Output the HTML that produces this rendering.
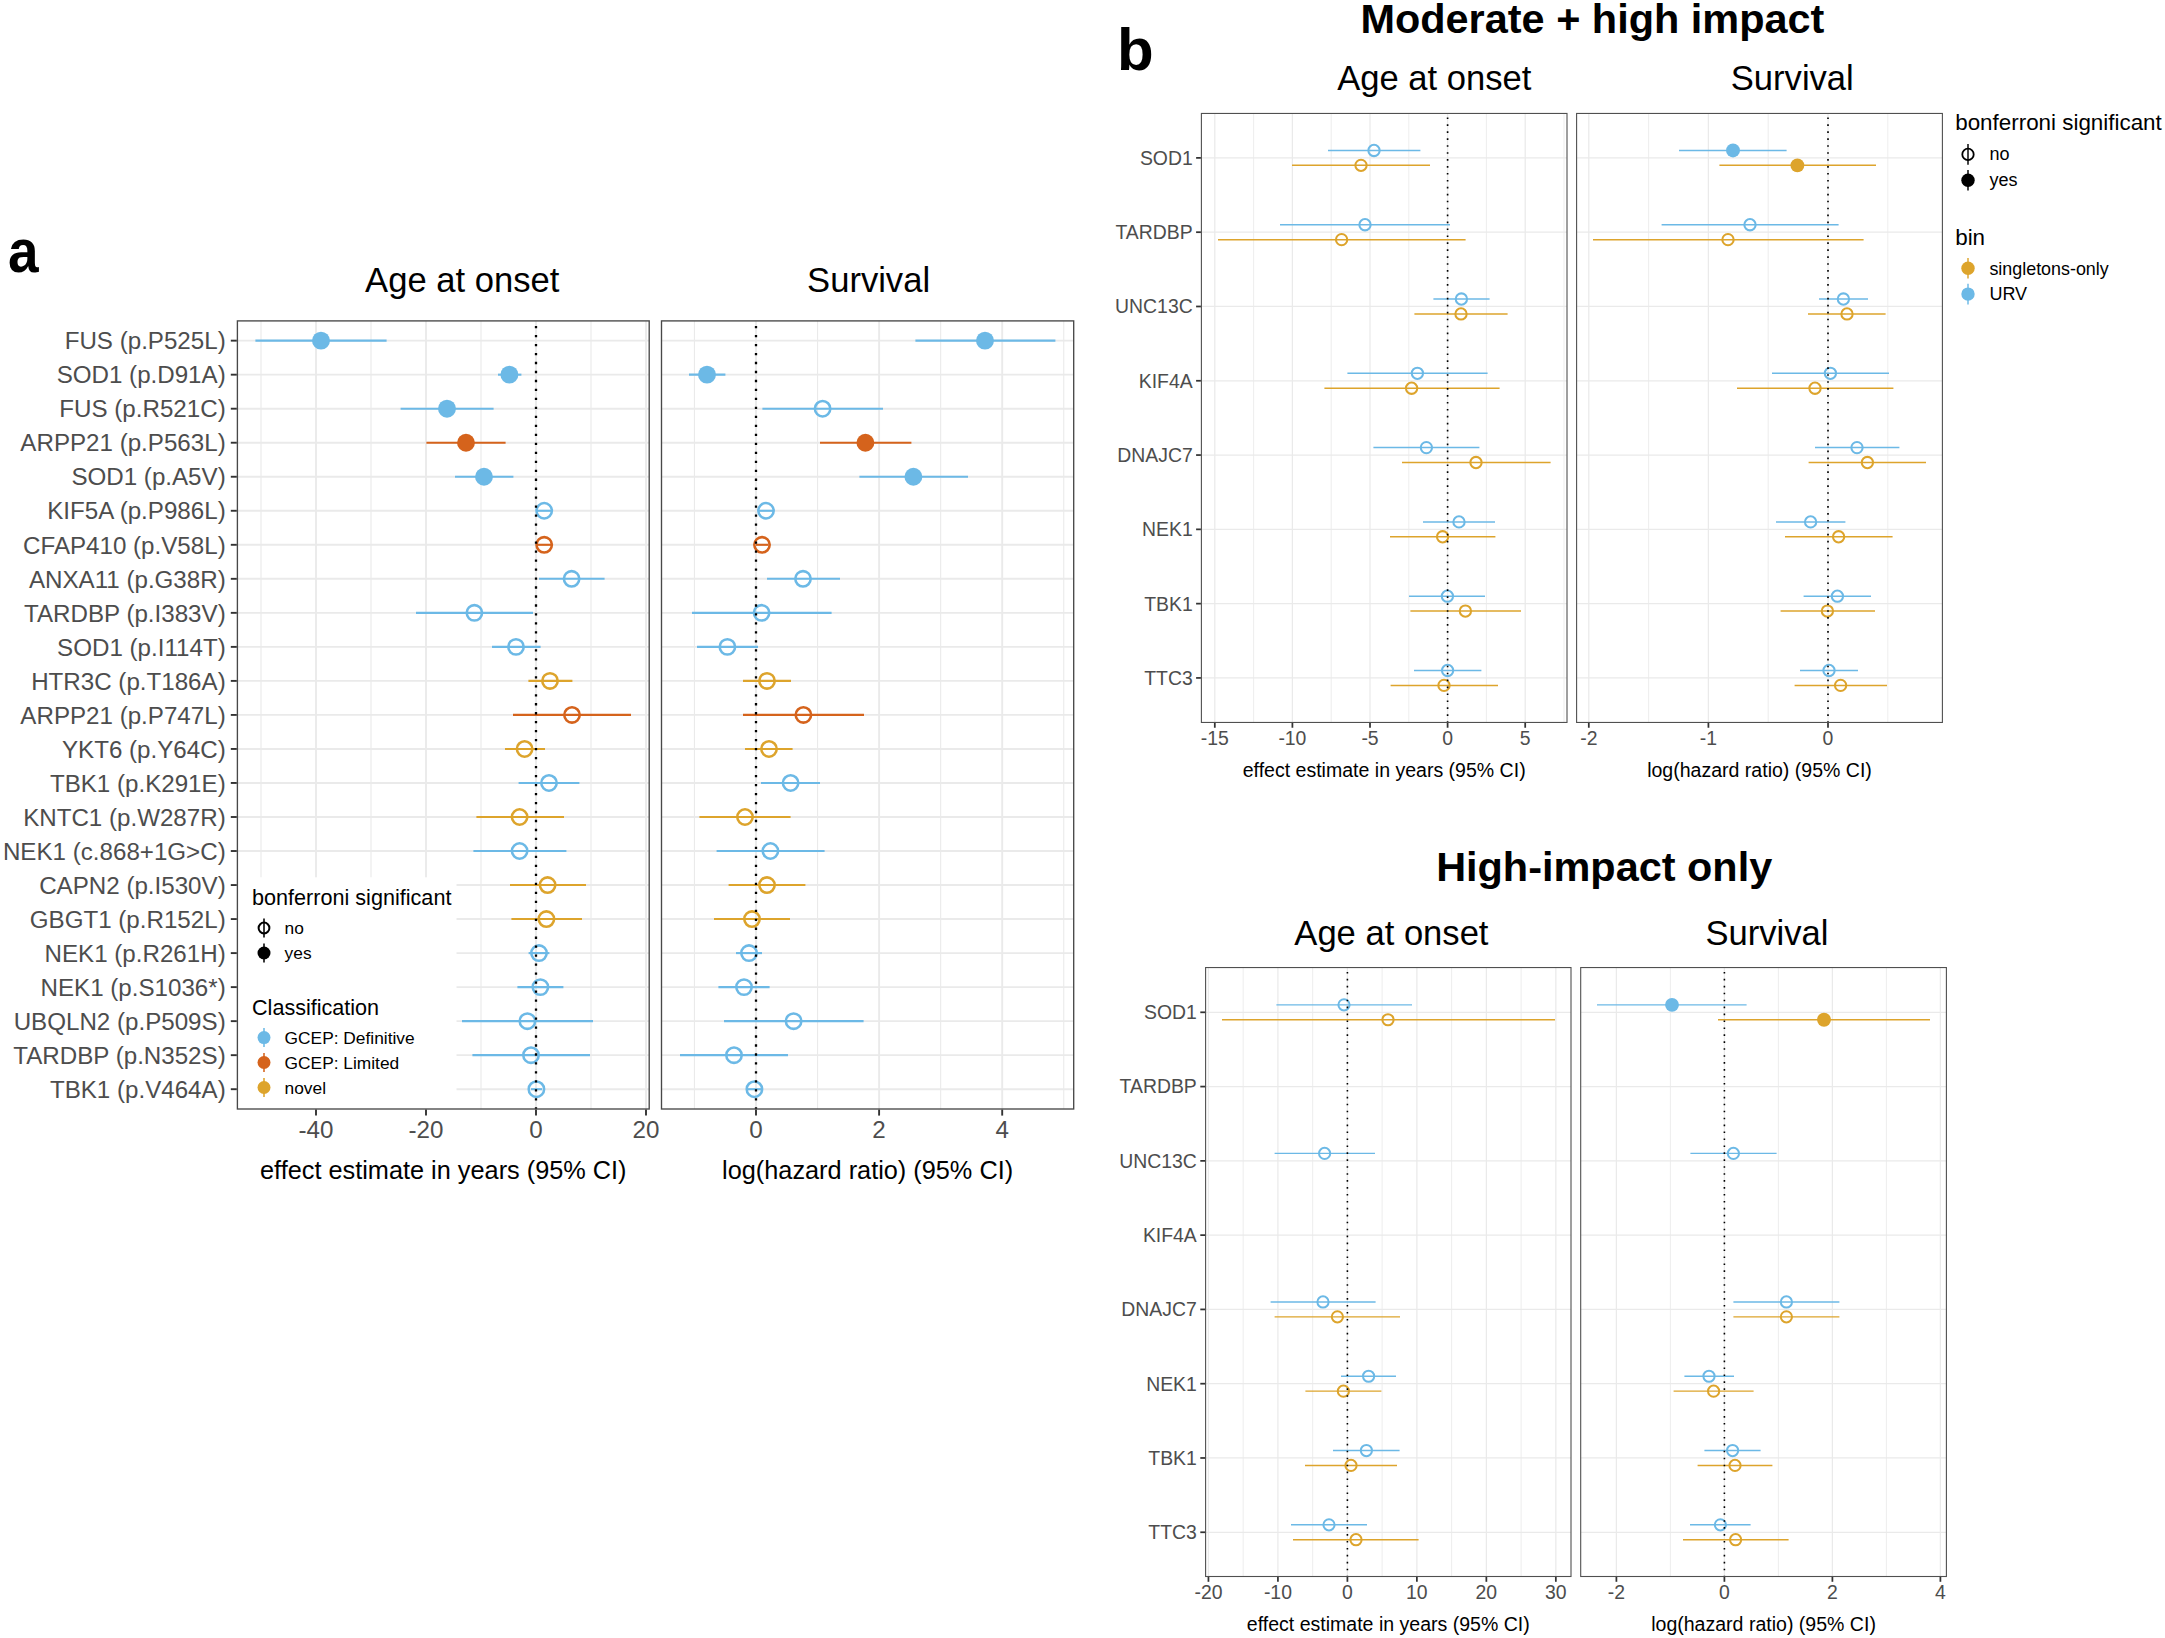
<!DOCTYPE html>
<html lang="en">
<head>
<meta charset="utf-8">
<title>Figure</title>
<style>html,body{margin:0;padding:0;background:#fff;}svg{display:block;}</style>
</head>
<body>
<svg width="2165" height="1638" viewBox="0 0 2165 1638" font-family="'Liberation Sans', sans-serif">
<rect width="2165" height="1638" fill="#fff"/>
<g id="panel-a">
<rect x="237.4" y="320.9" width="411.8" height="788.1" fill="#fff"/>
<line x1="261" y1="320.9" x2="261" y2="1109" stroke="#EAEAEA" stroke-width="1.1" />
<line x1="371" y1="320.9" x2="371" y2="1109" stroke="#EAEAEA" stroke-width="1.1" />
<line x1="481" y1="320.9" x2="481" y2="1109" stroke="#EAEAEA" stroke-width="1.1" />
<line x1="591" y1="320.9" x2="591" y2="1109" stroke="#EAEAEA" stroke-width="1.1" />
<line x1="316" y1="320.9" x2="316" y2="1109" stroke="#EAEAEA" stroke-width="1.9" />
<line x1="426" y1="320.9" x2="426" y2="1109" stroke="#EAEAEA" stroke-width="1.9" />
<line x1="536" y1="320.9" x2="536" y2="1109" stroke="#EAEAEA" stroke-width="1.9" />
<line x1="646" y1="320.9" x2="646" y2="1109" stroke="#EAEAEA" stroke-width="1.9" />
<line x1="237.4" y1="340.65" x2="649.2" y2="340.65" stroke="#EAEAEA" stroke-width="1.9" />
<line x1="237.4" y1="374.67" x2="649.2" y2="374.67" stroke="#EAEAEA" stroke-width="1.9" />
<line x1="237.4" y1="408.7" x2="649.2" y2="408.7" stroke="#EAEAEA" stroke-width="1.9" />
<line x1="237.4" y1="442.72" x2="649.2" y2="442.72" stroke="#EAEAEA" stroke-width="1.9" />
<line x1="237.4" y1="476.75" x2="649.2" y2="476.75" stroke="#EAEAEA" stroke-width="1.9" />
<line x1="237.4" y1="510.77" x2="649.2" y2="510.77" stroke="#EAEAEA" stroke-width="1.9" />
<line x1="237.4" y1="544.8" x2="649.2" y2="544.8" stroke="#EAEAEA" stroke-width="1.9" />
<line x1="237.4" y1="578.82" x2="649.2" y2="578.82" stroke="#EAEAEA" stroke-width="1.9" />
<line x1="237.4" y1="612.85" x2="649.2" y2="612.85" stroke="#EAEAEA" stroke-width="1.9" />
<line x1="237.4" y1="646.88" x2="649.2" y2="646.88" stroke="#EAEAEA" stroke-width="1.9" />
<line x1="237.4" y1="680.9" x2="649.2" y2="680.9" stroke="#EAEAEA" stroke-width="1.9" />
<line x1="237.4" y1="714.92" x2="649.2" y2="714.92" stroke="#EAEAEA" stroke-width="1.9" />
<line x1="237.4" y1="748.95" x2="649.2" y2="748.95" stroke="#EAEAEA" stroke-width="1.9" />
<line x1="237.4" y1="782.97" x2="649.2" y2="782.97" stroke="#EAEAEA" stroke-width="1.9" />
<line x1="237.4" y1="817" x2="649.2" y2="817" stroke="#EAEAEA" stroke-width="1.9" />
<line x1="237.4" y1="851.02" x2="649.2" y2="851.02" stroke="#EAEAEA" stroke-width="1.9" />
<line x1="237.4" y1="885.05" x2="649.2" y2="885.05" stroke="#EAEAEA" stroke-width="1.9" />
<line x1="237.4" y1="919.07" x2="649.2" y2="919.07" stroke="#EAEAEA" stroke-width="1.9" />
<line x1="237.4" y1="953.1" x2="649.2" y2="953.1" stroke="#EAEAEA" stroke-width="1.9" />
<line x1="237.4" y1="987.12" x2="649.2" y2="987.12" stroke="#EAEAEA" stroke-width="1.9" />
<line x1="237.4" y1="1021.15" x2="649.2" y2="1021.15" stroke="#EAEAEA" stroke-width="1.9" />
<line x1="237.4" y1="1055.17" x2="649.2" y2="1055.17" stroke="#EAEAEA" stroke-width="1.9" />
<line x1="237.4" y1="1089.2" x2="649.2" y2="1089.2" stroke="#EAEAEA" stroke-width="1.9" />
<rect x="661.5" y="320.9" width="412.2" height="788.1" fill="#fff"/>
<line x1="694.45" y1="320.9" x2="694.45" y2="1109" stroke="#EAEAEA" stroke-width="1.1" />
<line x1="817.55" y1="320.9" x2="817.55" y2="1109" stroke="#EAEAEA" stroke-width="1.1" />
<line x1="940.65" y1="320.9" x2="940.65" y2="1109" stroke="#EAEAEA" stroke-width="1.1" />
<line x1="1063.75" y1="320.9" x2="1063.75" y2="1109" stroke="#EAEAEA" stroke-width="1.1" />
<line x1="756" y1="320.9" x2="756" y2="1109" stroke="#EAEAEA" stroke-width="1.9" />
<line x1="879.1" y1="320.9" x2="879.1" y2="1109" stroke="#EAEAEA" stroke-width="1.9" />
<line x1="1002.2" y1="320.9" x2="1002.2" y2="1109" stroke="#EAEAEA" stroke-width="1.9" />
<line x1="661.5" y1="340.65" x2="1073.7" y2="340.65" stroke="#EAEAEA" stroke-width="1.9" />
<line x1="661.5" y1="374.67" x2="1073.7" y2="374.67" stroke="#EAEAEA" stroke-width="1.9" />
<line x1="661.5" y1="408.7" x2="1073.7" y2="408.7" stroke="#EAEAEA" stroke-width="1.9" />
<line x1="661.5" y1="442.72" x2="1073.7" y2="442.72" stroke="#EAEAEA" stroke-width="1.9" />
<line x1="661.5" y1="476.75" x2="1073.7" y2="476.75" stroke="#EAEAEA" stroke-width="1.9" />
<line x1="661.5" y1="510.77" x2="1073.7" y2="510.77" stroke="#EAEAEA" stroke-width="1.9" />
<line x1="661.5" y1="544.8" x2="1073.7" y2="544.8" stroke="#EAEAEA" stroke-width="1.9" />
<line x1="661.5" y1="578.82" x2="1073.7" y2="578.82" stroke="#EAEAEA" stroke-width="1.9" />
<line x1="661.5" y1="612.85" x2="1073.7" y2="612.85" stroke="#EAEAEA" stroke-width="1.9" />
<line x1="661.5" y1="646.88" x2="1073.7" y2="646.88" stroke="#EAEAEA" stroke-width="1.9" />
<line x1="661.5" y1="680.9" x2="1073.7" y2="680.9" stroke="#EAEAEA" stroke-width="1.9" />
<line x1="661.5" y1="714.92" x2="1073.7" y2="714.92" stroke="#EAEAEA" stroke-width="1.9" />
<line x1="661.5" y1="748.95" x2="1073.7" y2="748.95" stroke="#EAEAEA" stroke-width="1.9" />
<line x1="661.5" y1="782.97" x2="1073.7" y2="782.97" stroke="#EAEAEA" stroke-width="1.9" />
<line x1="661.5" y1="817" x2="1073.7" y2="817" stroke="#EAEAEA" stroke-width="1.9" />
<line x1="661.5" y1="851.02" x2="1073.7" y2="851.02" stroke="#EAEAEA" stroke-width="1.9" />
<line x1="661.5" y1="885.05" x2="1073.7" y2="885.05" stroke="#EAEAEA" stroke-width="1.9" />
<line x1="661.5" y1="919.07" x2="1073.7" y2="919.07" stroke="#EAEAEA" stroke-width="1.9" />
<line x1="661.5" y1="953.1" x2="1073.7" y2="953.1" stroke="#EAEAEA" stroke-width="1.9" />
<line x1="661.5" y1="987.12" x2="1073.7" y2="987.12" stroke="#EAEAEA" stroke-width="1.9" />
<line x1="661.5" y1="1021.15" x2="1073.7" y2="1021.15" stroke="#EAEAEA" stroke-width="1.9" />
<line x1="661.5" y1="1055.17" x2="1073.7" y2="1055.17" stroke="#EAEAEA" stroke-width="1.9" />
<line x1="661.5" y1="1089.2" x2="1073.7" y2="1089.2" stroke="#EAEAEA" stroke-width="1.9" />
<line x1="255.4" y1="340.65" x2="386.6" y2="340.65" stroke="#6CB9E6" stroke-width="2.1" />
<circle cx="321" cy="340.65" r="8.95" fill="#6CB9E6"/>
<line x1="915.4" y1="340.65" x2="1055.4" y2="340.65" stroke="#6CB9E6" stroke-width="2.1" />
<circle cx="985" cy="340.65" r="8.95" fill="#6CB9E6"/>
<line x1="498" y1="374.67" x2="521.4" y2="374.67" stroke="#6CB9E6" stroke-width="2.1" />
<circle cx="509.4" cy="374.67" r="8.95" fill="#6CB9E6"/>
<line x1="689" y1="374.67" x2="725.4" y2="374.67" stroke="#6CB9E6" stroke-width="2.1" />
<circle cx="707" cy="374.67" r="8.95" fill="#6CB9E6"/>
<line x1="400.6" y1="408.7" x2="493.6" y2="408.7" stroke="#6CB9E6" stroke-width="2.1" />
<circle cx="447" cy="408.7" r="8.95" fill="#6CB9E6"/>
<line x1="762.4" y1="408.7" x2="883" y2="408.7" stroke="#6CB9E6" stroke-width="2.1" />
<circle cx="822.6" cy="408.7" r="7.7" fill="none" stroke="#6CB9E6" stroke-width="2.55"/>
<line x1="426.4" y1="442.72" x2="505.6" y2="442.72" stroke="#D5631C" stroke-width="2.1" />
<circle cx="466" cy="442.72" r="8.95" fill="#D5631C"/>
<line x1="820" y1="442.72" x2="911.4" y2="442.72" stroke="#D5631C" stroke-width="2.1" />
<circle cx="865.4" cy="442.72" r="8.95" fill="#D5631C"/>
<line x1="455" y1="476.75" x2="513.4" y2="476.75" stroke="#6CB9E6" stroke-width="2.1" />
<circle cx="484" cy="476.75" r="8.95" fill="#6CB9E6"/>
<line x1="859.4" y1="476.75" x2="968" y2="476.75" stroke="#6CB9E6" stroke-width="2.1" />
<circle cx="913.4" cy="476.75" r="8.95" fill="#6CB9E6"/>
<line x1="536" y1="510.77" x2="552.6" y2="510.77" stroke="#6CB9E6" stroke-width="2.1" />
<circle cx="544.2" cy="510.77" r="7.7" fill="none" stroke="#6CB9E6" stroke-width="2.55"/>
<line x1="758" y1="510.77" x2="774" y2="510.77" stroke="#6CB9E6" stroke-width="2.1" />
<circle cx="766" cy="510.77" r="7.7" fill="none" stroke="#6CB9E6" stroke-width="2.55"/>
<line x1="536.4" y1="544.8" x2="552.6" y2="544.8" stroke="#D5631C" stroke-width="2.1" />
<circle cx="544.2" cy="544.8" r="7.7" fill="none" stroke="#D5631C" stroke-width="2.55"/>
<line x1="756" y1="544.8" x2="768.5" y2="544.8" stroke="#D5631C" stroke-width="2.1" />
<circle cx="762" cy="544.8" r="7.7" fill="none" stroke="#D5631C" stroke-width="2.55"/>
<line x1="539" y1="578.82" x2="604.6" y2="578.82" stroke="#6CB9E6" stroke-width="2.1" />
<circle cx="571.6" cy="578.82" r="7.7" fill="none" stroke="#6CB9E6" stroke-width="2.55"/>
<line x1="767" y1="578.82" x2="840" y2="578.82" stroke="#6CB9E6" stroke-width="2.1" />
<circle cx="803" cy="578.82" r="7.7" fill="none" stroke="#6CB9E6" stroke-width="2.55"/>
<line x1="416" y1="612.85" x2="533" y2="612.85" stroke="#6CB9E6" stroke-width="2.1" />
<circle cx="474.4" cy="612.85" r="7.7" fill="none" stroke="#6CB9E6" stroke-width="2.55"/>
<line x1="692" y1="612.85" x2="831.6" y2="612.85" stroke="#6CB9E6" stroke-width="2.1" />
<circle cx="761.6" cy="612.85" r="7.7" fill="none" stroke="#6CB9E6" stroke-width="2.55"/>
<line x1="492" y1="646.88" x2="540.6" y2="646.88" stroke="#6CB9E6" stroke-width="2.1" />
<circle cx="516" cy="646.88" r="7.7" fill="none" stroke="#6CB9E6" stroke-width="2.55"/>
<line x1="697" y1="646.88" x2="758" y2="646.88" stroke="#6CB9E6" stroke-width="2.1" />
<circle cx="727.4" cy="646.88" r="7.7" fill="none" stroke="#6CB9E6" stroke-width="2.55"/>
<line x1="528.4" y1="680.9" x2="572.4" y2="680.9" stroke="#DDA42C" stroke-width="2.1" />
<circle cx="550" cy="680.9" r="7.7" fill="none" stroke="#DDA42C" stroke-width="2.55"/>
<line x1="743" y1="680.9" x2="791" y2="680.9" stroke="#DDA42C" stroke-width="2.1" />
<circle cx="767" cy="680.9" r="7.7" fill="none" stroke="#DDA42C" stroke-width="2.55"/>
<line x1="513" y1="714.92" x2="631" y2="714.92" stroke="#D5631C" stroke-width="2.1" />
<circle cx="572" cy="714.92" r="7.7" fill="none" stroke="#D5631C" stroke-width="2.55"/>
<line x1="743" y1="714.92" x2="864" y2="714.92" stroke="#D5631C" stroke-width="2.1" />
<circle cx="803.4" cy="714.92" r="7.7" fill="none" stroke="#D5631C" stroke-width="2.55"/>
<line x1="505" y1="748.95" x2="545" y2="748.95" stroke="#DDA42C" stroke-width="2.1" />
<circle cx="524.6" cy="748.95" r="7.7" fill="none" stroke="#DDA42C" stroke-width="2.55"/>
<line x1="745" y1="748.95" x2="792.6" y2="748.95" stroke="#DDA42C" stroke-width="2.1" />
<circle cx="769" cy="748.95" r="7.7" fill="none" stroke="#DDA42C" stroke-width="2.55"/>
<line x1="518.6" y1="782.97" x2="579.4" y2="782.97" stroke="#6CB9E6" stroke-width="2.1" />
<circle cx="549" cy="782.97" r="7.7" fill="none" stroke="#6CB9E6" stroke-width="2.55"/>
<line x1="761" y1="782.97" x2="820" y2="782.97" stroke="#6CB9E6" stroke-width="2.1" />
<circle cx="790.6" cy="782.97" r="7.7" fill="none" stroke="#6CB9E6" stroke-width="2.55"/>
<line x1="476.4" y1="817" x2="564" y2="817" stroke="#DDA42C" stroke-width="2.1" />
<circle cx="519.6" cy="817" r="7.7" fill="none" stroke="#DDA42C" stroke-width="2.55"/>
<line x1="699.4" y1="817" x2="790.6" y2="817" stroke="#DDA42C" stroke-width="2.1" />
<circle cx="745" cy="817" r="7.7" fill="none" stroke="#DDA42C" stroke-width="2.55"/>
<line x1="473.4" y1="851.02" x2="566.4" y2="851.02" stroke="#6CB9E6" stroke-width="2.1" />
<circle cx="519.6" cy="851.02" r="7.7" fill="none" stroke="#6CB9E6" stroke-width="2.55"/>
<line x1="716.6" y1="851.02" x2="824.6" y2="851.02" stroke="#6CB9E6" stroke-width="2.1" />
<circle cx="770.4" cy="851.02" r="7.7" fill="none" stroke="#6CB9E6" stroke-width="2.55"/>
<line x1="510" y1="885.05" x2="586" y2="885.05" stroke="#DDA42C" stroke-width="2.1" />
<circle cx="547.6" cy="885.05" r="7.7" fill="none" stroke="#DDA42C" stroke-width="2.55"/>
<line x1="728.6" y1="885.05" x2="805.4" y2="885.05" stroke="#DDA42C" stroke-width="2.1" />
<circle cx="767" cy="885.05" r="7.7" fill="none" stroke="#DDA42C" stroke-width="2.55"/>
<line x1="511.4" y1="919.07" x2="582" y2="919.07" stroke="#DDA42C" stroke-width="2.1" />
<circle cx="546.4" cy="919.07" r="7.7" fill="none" stroke="#DDA42C" stroke-width="2.55"/>
<line x1="714" y1="919.07" x2="790" y2="919.07" stroke="#DDA42C" stroke-width="2.1" />
<circle cx="752" cy="919.07" r="7.7" fill="none" stroke="#DDA42C" stroke-width="2.55"/>
<line x1="528.6" y1="953.1" x2="549.4" y2="953.1" stroke="#6CB9E6" stroke-width="2.1" />
<circle cx="539" cy="953.1" r="7.7" fill="none" stroke="#6CB9E6" stroke-width="2.55"/>
<line x1="736" y1="953.1" x2="762" y2="953.1" stroke="#6CB9E6" stroke-width="2.1" />
<circle cx="749" cy="953.1" r="7.7" fill="none" stroke="#6CB9E6" stroke-width="2.55"/>
<line x1="517.4" y1="987.12" x2="563.4" y2="987.12" stroke="#6CB9E6" stroke-width="2.1" />
<circle cx="540.4" cy="987.12" r="7.7" fill="none" stroke="#6CB9E6" stroke-width="2.55"/>
<line x1="718.4" y1="987.12" x2="769.6" y2="987.12" stroke="#6CB9E6" stroke-width="2.1" />
<circle cx="744" cy="987.12" r="7.7" fill="none" stroke="#6CB9E6" stroke-width="2.55"/>
<line x1="462" y1="1021.15" x2="593" y2="1021.15" stroke="#6CB9E6" stroke-width="2.1" />
<circle cx="527.4" cy="1021.15" r="7.7" fill="none" stroke="#6CB9E6" stroke-width="2.55"/>
<line x1="724" y1="1021.15" x2="863.6" y2="1021.15" stroke="#6CB9E6" stroke-width="2.1" />
<circle cx="793.6" cy="1021.15" r="7.7" fill="none" stroke="#6CB9E6" stroke-width="2.55"/>
<line x1="472.4" y1="1055.17" x2="590" y2="1055.17" stroke="#6CB9E6" stroke-width="2.1" />
<circle cx="531" cy="1055.17" r="7.7" fill="none" stroke="#6CB9E6" stroke-width="2.55"/>
<line x1="680" y1="1055.17" x2="788" y2="1055.17" stroke="#6CB9E6" stroke-width="2.1" />
<circle cx="734" cy="1055.17" r="7.7" fill="none" stroke="#6CB9E6" stroke-width="2.55"/>
<line x1="531" y1="1089.2" x2="542" y2="1089.2" stroke="#6CB9E6" stroke-width="2.1" />
<circle cx="536.4" cy="1089.2" r="7.7" fill="none" stroke="#6CB9E6" stroke-width="2.55"/>
<line x1="748" y1="1089.2" x2="761" y2="1089.2" stroke="#6CB9E6" stroke-width="2.1" />
<circle cx="754.4" cy="1089.2" r="7.7" fill="none" stroke="#6CB9E6" stroke-width="2.55"/>
<line x1="536" y1="320.9" x2="536" y2="1109" stroke="#000" stroke-width="2.3" stroke-dasharray="2.3 6.68" stroke-dashoffset="3.93"/>
<line x1="756" y1="320.9" x2="756" y2="1109" stroke="#000" stroke-width="2.3" stroke-dasharray="2.3 6.68" stroke-dashoffset="3.93"/>
<rect x="237.4" y="877.3" width="219.1" height="231.7" fill="#fff"/>
<rect x="237.4" y="320.9" width="411.8" height="788.1" fill="none" stroke="#484848" stroke-width="1.35"/>
<rect x="661.5" y="320.9" width="412.2" height="788.1" fill="none" stroke="#484848" stroke-width="1.35"/>
<line x1="230.8" y1="340.65" x2="236.8" y2="340.65" stroke="#333333" stroke-width="1.9" />
<text x="225.7" y="349.35" font-size="24.15" fill="#4D4D4D" text-anchor="end" >FUS (p.P525L)</text>
<line x1="230.8" y1="374.67" x2="236.8" y2="374.67" stroke="#333333" stroke-width="1.9" />
<text x="225.7" y="383.37" font-size="24.15" fill="#4D4D4D" text-anchor="end" >SOD1 (p.D91A)</text>
<line x1="230.8" y1="408.7" x2="236.8" y2="408.7" stroke="#333333" stroke-width="1.9" />
<text x="225.7" y="417.4" font-size="24.15" fill="#4D4D4D" text-anchor="end" >FUS (p.R521C)</text>
<line x1="230.8" y1="442.72" x2="236.8" y2="442.72" stroke="#333333" stroke-width="1.9" />
<text x="225.7" y="451.42" font-size="24.15" fill="#4D4D4D" text-anchor="end" >ARPP21 (p.P563L)</text>
<line x1="230.8" y1="476.75" x2="236.8" y2="476.75" stroke="#333333" stroke-width="1.9" />
<text x="225.7" y="485.45" font-size="24.15" fill="#4D4D4D" text-anchor="end" >SOD1 (p.A5V)</text>
<line x1="230.8" y1="510.77" x2="236.8" y2="510.77" stroke="#333333" stroke-width="1.9" />
<text x="225.7" y="519.48" font-size="24.15" fill="#4D4D4D" text-anchor="end" >KIF5A (p.P986L)</text>
<line x1="230.8" y1="544.8" x2="236.8" y2="544.8" stroke="#333333" stroke-width="1.9" />
<text x="225.7" y="553.5" font-size="24.15" fill="#4D4D4D" text-anchor="end" >CFAP410 (p.V58L)</text>
<line x1="230.8" y1="578.82" x2="236.8" y2="578.82" stroke="#333333" stroke-width="1.9" />
<text x="225.7" y="587.52" font-size="24.15" fill="#4D4D4D" text-anchor="end" >ANXA11 (p.G38R)</text>
<line x1="230.8" y1="612.85" x2="236.8" y2="612.85" stroke="#333333" stroke-width="1.9" />
<text x="225.7" y="621.55" font-size="24.15" fill="#4D4D4D" text-anchor="end" >TARDBP (p.I383V)</text>
<line x1="230.8" y1="646.88" x2="236.8" y2="646.88" stroke="#333333" stroke-width="1.9" />
<text x="225.7" y="655.58" font-size="24.15" fill="#4D4D4D" text-anchor="end" >SOD1 (p.I114T)</text>
<line x1="230.8" y1="680.9" x2="236.8" y2="680.9" stroke="#333333" stroke-width="1.9" />
<text x="225.7" y="689.6" font-size="24.15" fill="#4D4D4D" text-anchor="end" >HTR3C (p.T186A)</text>
<line x1="230.8" y1="714.92" x2="236.8" y2="714.92" stroke="#333333" stroke-width="1.9" />
<text x="225.7" y="723.62" font-size="24.15" fill="#4D4D4D" text-anchor="end" >ARPP21 (p.P747L)</text>
<line x1="230.8" y1="748.95" x2="236.8" y2="748.95" stroke="#333333" stroke-width="1.9" />
<text x="225.7" y="757.65" font-size="24.15" fill="#4D4D4D" text-anchor="end" >YKT6 (p.Y64C)</text>
<line x1="230.8" y1="782.97" x2="236.8" y2="782.97" stroke="#333333" stroke-width="1.9" />
<text x="225.7" y="791.67" font-size="24.15" fill="#4D4D4D" text-anchor="end" >TBK1 (p.K291E)</text>
<line x1="230.8" y1="817" x2="236.8" y2="817" stroke="#333333" stroke-width="1.9" />
<text x="225.7" y="825.7" font-size="24.15" fill="#4D4D4D" text-anchor="end" >KNTC1 (p.W287R)</text>
<line x1="230.8" y1="851.02" x2="236.8" y2="851.02" stroke="#333333" stroke-width="1.9" />
<text x="225.7" y="859.73" font-size="24.15" fill="#4D4D4D" text-anchor="end" >NEK1 (c.868+1G&gt;C)</text>
<line x1="230.8" y1="885.05" x2="236.8" y2="885.05" stroke="#333333" stroke-width="1.9" />
<text x="225.7" y="893.75" font-size="24.15" fill="#4D4D4D" text-anchor="end" >CAPN2 (p.I530V)</text>
<line x1="230.8" y1="919.07" x2="236.8" y2="919.07" stroke="#333333" stroke-width="1.9" />
<text x="225.7" y="927.77" font-size="24.15" fill="#4D4D4D" text-anchor="end" >GBGT1 (p.R152L)</text>
<line x1="230.8" y1="953.1" x2="236.8" y2="953.1" stroke="#333333" stroke-width="1.9" />
<text x="225.7" y="961.8" font-size="24.15" fill="#4D4D4D" text-anchor="end" >NEK1 (p.R261H)</text>
<line x1="230.8" y1="987.12" x2="236.8" y2="987.12" stroke="#333333" stroke-width="1.9" />
<text x="225.7" y="995.83" font-size="24.15" fill="#4D4D4D" text-anchor="end" >NEK1 (p.S1036*)</text>
<line x1="230.8" y1="1021.15" x2="236.8" y2="1021.15" stroke="#333333" stroke-width="1.9" />
<text x="225.7" y="1029.85" font-size="24.15" fill="#4D4D4D" text-anchor="end" >UBQLN2 (p.P509S)</text>
<line x1="230.8" y1="1055.17" x2="236.8" y2="1055.17" stroke="#333333" stroke-width="1.9" />
<text x="225.7" y="1063.88" font-size="24.15" fill="#4D4D4D" text-anchor="end" >TARDBP (p.N352S)</text>
<line x1="230.8" y1="1089.2" x2="236.8" y2="1089.2" stroke="#333333" stroke-width="1.9" />
<text x="225.7" y="1097.9" font-size="24.15" fill="#4D4D4D" text-anchor="end" >TBK1 (p.V464A)</text>
<line x1="316" y1="1109.6" x2="316" y2="1115.6" stroke="#333333" stroke-width="1.9" />
<text x="316" y="1138.2" font-size="24.2" fill="#4D4D4D" text-anchor="middle" >-40</text>
<line x1="426" y1="1109.6" x2="426" y2="1115.6" stroke="#333333" stroke-width="1.9" />
<text x="426" y="1138.2" font-size="24.2" fill="#4D4D4D" text-anchor="middle" >-20</text>
<line x1="536" y1="1109.6" x2="536" y2="1115.6" stroke="#333333" stroke-width="1.9" />
<text x="536" y="1138.2" font-size="24.2" fill="#4D4D4D" text-anchor="middle" >0</text>
<line x1="646" y1="1109.6" x2="646" y2="1115.6" stroke="#333333" stroke-width="1.9" />
<text x="646" y="1138.2" font-size="24.2" fill="#4D4D4D" text-anchor="middle" >20</text>
<line x1="756" y1="1109.6" x2="756" y2="1115.6" stroke="#333333" stroke-width="1.9" />
<text x="756" y="1138.2" font-size="24.2" fill="#4D4D4D" text-anchor="middle" >0</text>
<line x1="879.1" y1="1109.6" x2="879.1" y2="1115.6" stroke="#333333" stroke-width="1.9" />
<text x="879.1" y="1138.2" font-size="24.2" fill="#4D4D4D" text-anchor="middle" >2</text>
<line x1="1002.2" y1="1109.6" x2="1002.2" y2="1115.6" stroke="#333333" stroke-width="1.9" />
<text x="1002.2" y="1138.2" font-size="24.2" fill="#4D4D4D" text-anchor="middle" >4</text>
<text x="443.3" y="1179.2" font-size="25.3" fill="#000" text-anchor="middle" >effect estimate in years (95% CI)</text>
<text x="867.6" y="1179.2" font-size="25.3" fill="#000" text-anchor="middle" >log(hazard ratio) (95% CI)</text>
<text x="462.2" y="292" font-size="34.6" fill="#000" text-anchor="middle" >Age at onset</text>
<text x="868.6" y="292" font-size="34.6" fill="#000" text-anchor="middle" >Survival</text>
<text x="7.9" y="272.3" font-size="61" fill="#000" text-anchor="start" font-weight="bold" textLength="30.6" lengthAdjust="spacingAndGlyphs">a</text>
<text x="252" y="904.8" font-size="21.62" fill="#000" text-anchor="start" >bonferroni significant</text>
<line x1="264" y1="918.5" x2="264" y2="937.5" stroke="#000" stroke-width="1.55" />
<circle cx="264" cy="928" r="5.4" fill="none" stroke="#000" stroke-width="2"/>
<text x="284.6" y="934" font-size="17.33" fill="#000" text-anchor="start" >no</text>
<line x1="264" y1="943.5" x2="264" y2="962.5" stroke="#000" stroke-width="1.55" />
<circle cx="264" cy="953" r="6.5" fill="#000"/>
<text x="284.6" y="959" font-size="17.33" fill="#000" text-anchor="start" >yes</text>
<text x="252" y="1014.9" font-size="21.58" fill="#000" text-anchor="start" >Classification</text>
<line x1="264" y1="1028.1" x2="264" y2="1047.1" stroke="#6CB9E6" stroke-width="1.55" />
<circle cx="264" cy="1037.6" r="6.5" fill="#6CB9E6"/>
<text x="284.6" y="1043.6" font-size="17.33" fill="#000" text-anchor="start" >GCEP: Definitive</text>
<line x1="264" y1="1053" x2="264" y2="1072" stroke="#D5631C" stroke-width="1.55" />
<circle cx="264" cy="1062.5" r="6.5" fill="#D5631C"/>
<text x="284.6" y="1068.6" font-size="17.33" fill="#000" text-anchor="start" >GCEP: Limited</text>
<line x1="264" y1="1078" x2="264" y2="1097" stroke="#DDA42C" stroke-width="1.55" />
<circle cx="264" cy="1087.5" r="6.5" fill="#DDA42C"/>
<text x="284.6" y="1093.6" font-size="17.33" fill="#000" text-anchor="start" >novel</text>
</g>
<g id="panel-b-top">
<rect x="1201.4" y="113.45" width="365.6" height="609" fill="#fff"/>
<line x1="1253.6" y1="113.45" x2="1253.6" y2="722.45" stroke="#EAEAEA" stroke-width="0.85" />
<line x1="1331.2" y1="113.45" x2="1331.2" y2="722.45" stroke="#EAEAEA" stroke-width="0.85" />
<line x1="1408.8" y1="113.45" x2="1408.8" y2="722.45" stroke="#EAEAEA" stroke-width="0.85" />
<line x1="1486.4" y1="113.45" x2="1486.4" y2="722.45" stroke="#EAEAEA" stroke-width="0.85" />
<line x1="1564" y1="113.45" x2="1564" y2="722.45" stroke="#EAEAEA" stroke-width="0.85" />
<line x1="1214.8" y1="113.45" x2="1214.8" y2="722.45" stroke="#EAEAEA" stroke-width="1.25" />
<line x1="1292.4" y1="113.45" x2="1292.4" y2="722.45" stroke="#EAEAEA" stroke-width="1.25" />
<line x1="1370" y1="113.45" x2="1370" y2="722.45" stroke="#EAEAEA" stroke-width="1.25" />
<line x1="1447.6" y1="113.45" x2="1447.6" y2="722.45" stroke="#EAEAEA" stroke-width="1.25" />
<line x1="1525.2" y1="113.45" x2="1525.2" y2="722.45" stroke="#EAEAEA" stroke-width="1.25" />
<line x1="1201.4" y1="157.9" x2="1567" y2="157.9" stroke="#EAEAEA" stroke-width="1.25" />
<line x1="1201.4" y1="232.19" x2="1567" y2="232.19" stroke="#EAEAEA" stroke-width="1.25" />
<line x1="1201.4" y1="306.48" x2="1567" y2="306.48" stroke="#EAEAEA" stroke-width="1.25" />
<line x1="1201.4" y1="380.77" x2="1567" y2="380.77" stroke="#EAEAEA" stroke-width="1.25" />
<line x1="1201.4" y1="455.06" x2="1567" y2="455.06" stroke="#EAEAEA" stroke-width="1.25" />
<line x1="1201.4" y1="529.35" x2="1567" y2="529.35" stroke="#EAEAEA" stroke-width="1.25" />
<line x1="1201.4" y1="603.64" x2="1567" y2="603.64" stroke="#EAEAEA" stroke-width="1.25" />
<line x1="1201.4" y1="677.93" x2="1567" y2="677.93" stroke="#EAEAEA" stroke-width="1.25" />
<rect x="1576.6" y="113.45" width="365.8" height="609" fill="#fff"/>
<line x1="1648.6" y1="113.45" x2="1648.6" y2="722.45" stroke="#EAEAEA" stroke-width="0.85" />
<line x1="1768.2" y1="113.45" x2="1768.2" y2="722.45" stroke="#EAEAEA" stroke-width="0.85" />
<line x1="1887.8" y1="113.45" x2="1887.8" y2="722.45" stroke="#EAEAEA" stroke-width="0.85" />
<line x1="1588.8" y1="113.45" x2="1588.8" y2="722.45" stroke="#EAEAEA" stroke-width="1.25" />
<line x1="1708.4" y1="113.45" x2="1708.4" y2="722.45" stroke="#EAEAEA" stroke-width="1.25" />
<line x1="1828" y1="113.45" x2="1828" y2="722.45" stroke="#EAEAEA" stroke-width="1.25" />
<line x1="1576.6" y1="157.9" x2="1942.4" y2="157.9" stroke="#EAEAEA" stroke-width="1.25" />
<line x1="1576.6" y1="232.19" x2="1942.4" y2="232.19" stroke="#EAEAEA" stroke-width="1.25" />
<line x1="1576.6" y1="306.48" x2="1942.4" y2="306.48" stroke="#EAEAEA" stroke-width="1.25" />
<line x1="1576.6" y1="380.77" x2="1942.4" y2="380.77" stroke="#EAEAEA" stroke-width="1.25" />
<line x1="1576.6" y1="455.06" x2="1942.4" y2="455.06" stroke="#EAEAEA" stroke-width="1.25" />
<line x1="1576.6" y1="529.35" x2="1942.4" y2="529.35" stroke="#EAEAEA" stroke-width="1.25" />
<line x1="1576.6" y1="603.64" x2="1942.4" y2="603.64" stroke="#EAEAEA" stroke-width="1.25" />
<line x1="1576.6" y1="677.93" x2="1942.4" y2="677.93" stroke="#EAEAEA" stroke-width="1.25" />
<line x1="1328" y1="150.45" x2="1420.4" y2="150.45" stroke="#6CB9E6" stroke-width="1.5" />
<circle cx="1374" cy="150.45" r="5.65" fill="none" stroke="#6CB9E6" stroke-width="2.05"/>
<line x1="1292" y1="165.35" x2="1430" y2="165.35" stroke="#DDA42C" stroke-width="1.5" />
<circle cx="1361" cy="165.35" r="5.65" fill="none" stroke="#DDA42C" stroke-width="2.05"/>
<line x1="1679" y1="150.45" x2="1786.6" y2="150.45" stroke="#6CB9E6" stroke-width="1.5" />
<circle cx="1733" cy="150.45" r="6.95" fill="#6CB9E6"/>
<line x1="1719.4" y1="165.35" x2="1876" y2="165.35" stroke="#DDA42C" stroke-width="1.5" />
<circle cx="1797.4" cy="165.35" r="6.95" fill="#DDA42C"/>
<line x1="1280" y1="224.74" x2="1450" y2="224.74" stroke="#6CB9E6" stroke-width="1.5" />
<circle cx="1365" cy="224.74" r="5.65" fill="none" stroke="#6CB9E6" stroke-width="2.05"/>
<line x1="1218" y1="239.64" x2="1465.6" y2="239.64" stroke="#DDA42C" stroke-width="1.5" />
<circle cx="1341.6" cy="239.64" r="5.65" fill="none" stroke="#DDA42C" stroke-width="2.05"/>
<line x1="1661.6" y1="224.74" x2="1838.6" y2="224.74" stroke="#6CB9E6" stroke-width="1.5" />
<circle cx="1750" cy="224.74" r="5.65" fill="none" stroke="#6CB9E6" stroke-width="2.05"/>
<line x1="1593" y1="239.64" x2="1863.6" y2="239.64" stroke="#DDA42C" stroke-width="1.5" />
<circle cx="1728" cy="239.64" r="5.65" fill="none" stroke="#DDA42C" stroke-width="2.05"/>
<line x1="1433.4" y1="299.03" x2="1489.6" y2="299.03" stroke="#6CB9E6" stroke-width="1.5" />
<circle cx="1461.4" cy="299.03" r="5.65" fill="none" stroke="#6CB9E6" stroke-width="2.05"/>
<line x1="1414.4" y1="313.93" x2="1507.6" y2="313.93" stroke="#DDA42C" stroke-width="1.5" />
<circle cx="1461" cy="313.93" r="5.65" fill="none" stroke="#DDA42C" stroke-width="2.05"/>
<line x1="1819" y1="299.03" x2="1868" y2="299.03" stroke="#6CB9E6" stroke-width="1.5" />
<circle cx="1843.4" cy="299.03" r="5.65" fill="none" stroke="#6CB9E6" stroke-width="2.05"/>
<line x1="1808" y1="313.93" x2="1885.6" y2="313.93" stroke="#DDA42C" stroke-width="1.5" />
<circle cx="1847" cy="313.93" r="5.65" fill="none" stroke="#DDA42C" stroke-width="2.05"/>
<line x1="1347.4" y1="373.32" x2="1487.6" y2="373.32" stroke="#6CB9E6" stroke-width="1.5" />
<circle cx="1417.4" cy="373.32" r="5.65" fill="none" stroke="#6CB9E6" stroke-width="2.05"/>
<line x1="1324.4" y1="388.22" x2="1499.6" y2="388.22" stroke="#DDA42C" stroke-width="1.5" />
<circle cx="1411.6" cy="388.22" r="5.65" fill="none" stroke="#DDA42C" stroke-width="2.05"/>
<line x1="1772" y1="373.32" x2="1889" y2="373.32" stroke="#6CB9E6" stroke-width="1.5" />
<circle cx="1830.4" cy="373.32" r="5.65" fill="none" stroke="#6CB9E6" stroke-width="2.05"/>
<line x1="1737" y1="388.22" x2="1893.4" y2="388.22" stroke="#DDA42C" stroke-width="1.5" />
<circle cx="1815" cy="388.22" r="5.65" fill="none" stroke="#DDA42C" stroke-width="2.05"/>
<line x1="1373.4" y1="447.61" x2="1479.4" y2="447.61" stroke="#6CB9E6" stroke-width="1.5" />
<circle cx="1426.4" cy="447.61" r="5.65" fill="none" stroke="#6CB9E6" stroke-width="2.05"/>
<line x1="1402" y1="462.51" x2="1550.6" y2="462.51" stroke="#DDA42C" stroke-width="1.5" />
<circle cx="1476" cy="462.51" r="5.65" fill="none" stroke="#DDA42C" stroke-width="2.05"/>
<line x1="1815" y1="447.61" x2="1899.4" y2="447.61" stroke="#6CB9E6" stroke-width="1.5" />
<circle cx="1857" cy="447.61" r="5.65" fill="none" stroke="#6CB9E6" stroke-width="2.05"/>
<line x1="1808.6" y1="462.51" x2="1926" y2="462.51" stroke="#DDA42C" stroke-width="1.5" />
<circle cx="1867.4" cy="462.51" r="5.65" fill="none" stroke="#DDA42C" stroke-width="2.05"/>
<line x1="1423" y1="521.9" x2="1495" y2="521.9" stroke="#6CB9E6" stroke-width="1.5" />
<circle cx="1459" cy="521.9" r="5.65" fill="none" stroke="#6CB9E6" stroke-width="2.05"/>
<line x1="1390" y1="536.8" x2="1495.4" y2="536.8" stroke="#DDA42C" stroke-width="1.5" />
<circle cx="1442.6" cy="536.8" r="5.65" fill="none" stroke="#DDA42C" stroke-width="2.05"/>
<line x1="1776" y1="521.9" x2="1845.4" y2="521.9" stroke="#6CB9E6" stroke-width="1.5" />
<circle cx="1810.6" cy="521.9" r="5.65" fill="none" stroke="#6CB9E6" stroke-width="2.05"/>
<line x1="1785" y1="536.8" x2="1892.6" y2="536.8" stroke="#DDA42C" stroke-width="1.5" />
<circle cx="1838.6" cy="536.8" r="5.65" fill="none" stroke="#DDA42C" stroke-width="2.05"/>
<line x1="1409" y1="596.19" x2="1485" y2="596.19" stroke="#6CB9E6" stroke-width="1.5" />
<circle cx="1447.4" cy="596.19" r="5.65" fill="none" stroke="#6CB9E6" stroke-width="2.05"/>
<line x1="1410.4" y1="611.09" x2="1521" y2="611.09" stroke="#DDA42C" stroke-width="1.5" />
<circle cx="1465.4" cy="611.09" r="5.65" fill="none" stroke="#DDA42C" stroke-width="2.05"/>
<line x1="1803.6" y1="596.19" x2="1871" y2="596.19" stroke="#6CB9E6" stroke-width="1.5" />
<circle cx="1837.4" cy="596.19" r="5.65" fill="none" stroke="#6CB9E6" stroke-width="2.05"/>
<line x1="1780.6" y1="611.09" x2="1875" y2="611.09" stroke="#DDA42C" stroke-width="1.5" />
<circle cx="1827.4" cy="611.09" r="5.65" fill="none" stroke="#DDA42C" stroke-width="2.05"/>
<line x1="1414" y1="670.48" x2="1481.4" y2="670.48" stroke="#6CB9E6" stroke-width="1.5" />
<circle cx="1447.6" cy="670.48" r="5.65" fill="none" stroke="#6CB9E6" stroke-width="2.05"/>
<line x1="1390.6" y1="685.38" x2="1498" y2="685.38" stroke="#DDA42C" stroke-width="1.5" />
<circle cx="1444" cy="685.38" r="5.65" fill="none" stroke="#DDA42C" stroke-width="2.05"/>
<line x1="1800" y1="670.48" x2="1858" y2="670.48" stroke="#6CB9E6" stroke-width="1.5" />
<circle cx="1829" cy="670.48" r="5.65" fill="none" stroke="#6CB9E6" stroke-width="2.05"/>
<line x1="1794.6" y1="685.38" x2="1887" y2="685.38" stroke="#DDA42C" stroke-width="1.5" />
<circle cx="1840.6" cy="685.38" r="5.65" fill="none" stroke="#DDA42C" stroke-width="2.05"/>
<line x1="1447.6" y1="113.45" x2="1447.6" y2="722.45" stroke="#000" stroke-width="1.65" stroke-dasharray="1.65 5.29" stroke-dashoffset="2.96"/>
<line x1="1828" y1="113.45" x2="1828" y2="722.45" stroke="#000" stroke-width="1.65" stroke-dasharray="1.65 5.29" stroke-dashoffset="2.96"/>
<rect x="1201.4" y="113.45" width="365.6" height="609" fill="none" stroke="#505050" stroke-width="1.1"/>
<rect x="1576.6" y="113.45" width="365.8" height="609" fill="none" stroke="#505050" stroke-width="1.1"/>
<line x1="1196.1" y1="157.9" x2="1200.9" y2="157.9" stroke="#333333" stroke-width="1.75" />
<text x="1192.7" y="164.8" font-size="19.4" fill="#4D4D4D" text-anchor="end" >SOD1</text>
<line x1="1196.1" y1="232.19" x2="1200.9" y2="232.19" stroke="#333333" stroke-width="1.75" />
<text x="1192.7" y="239.09" font-size="19.4" fill="#4D4D4D" text-anchor="end" >TARDBP</text>
<line x1="1196.1" y1="306.48" x2="1200.9" y2="306.48" stroke="#333333" stroke-width="1.75" />
<text x="1192.7" y="313.38" font-size="19.4" fill="#4D4D4D" text-anchor="end" >UNC13C</text>
<line x1="1196.1" y1="380.77" x2="1200.9" y2="380.77" stroke="#333333" stroke-width="1.75" />
<text x="1192.7" y="387.67" font-size="19.4" fill="#4D4D4D" text-anchor="end" >KIF4A</text>
<line x1="1196.1" y1="455.06" x2="1200.9" y2="455.06" stroke="#333333" stroke-width="1.75" />
<text x="1192.7" y="461.96" font-size="19.4" fill="#4D4D4D" text-anchor="end" >DNAJC7</text>
<line x1="1196.1" y1="529.35" x2="1200.9" y2="529.35" stroke="#333333" stroke-width="1.75" />
<text x="1192.7" y="536.25" font-size="19.4" fill="#4D4D4D" text-anchor="end" >NEK1</text>
<line x1="1196.1" y1="603.64" x2="1200.9" y2="603.64" stroke="#333333" stroke-width="1.75" />
<text x="1192.7" y="610.54" font-size="19.4" fill="#4D4D4D" text-anchor="end" >TBK1</text>
<line x1="1196.1" y1="677.93" x2="1200.9" y2="677.93" stroke="#333333" stroke-width="1.75" />
<text x="1192.7" y="684.83" font-size="19.4" fill="#4D4D4D" text-anchor="end" >TTC3</text>
<line x1="1214.8" y1="722.95" x2="1214.8" y2="727.75" stroke="#333333" stroke-width="1.75" />
<text x="1214.8" y="744.8" font-size="19.4" fill="#4D4D4D" text-anchor="middle" >-15</text>
<line x1="1292.4" y1="722.95" x2="1292.4" y2="727.75" stroke="#333333" stroke-width="1.75" />
<text x="1292.4" y="744.8" font-size="19.4" fill="#4D4D4D" text-anchor="middle" >-10</text>
<line x1="1370" y1="722.95" x2="1370" y2="727.75" stroke="#333333" stroke-width="1.75" />
<text x="1370" y="744.8" font-size="19.4" fill="#4D4D4D" text-anchor="middle" >-5</text>
<line x1="1447.6" y1="722.95" x2="1447.6" y2="727.75" stroke="#333333" stroke-width="1.75" />
<text x="1447.6" y="744.8" font-size="19.4" fill="#4D4D4D" text-anchor="middle" >0</text>
<line x1="1525.2" y1="722.95" x2="1525.2" y2="727.75" stroke="#333333" stroke-width="1.75" />
<text x="1525.2" y="744.8" font-size="19.4" fill="#4D4D4D" text-anchor="middle" >5</text>
<line x1="1588.8" y1="722.95" x2="1588.8" y2="727.75" stroke="#333333" stroke-width="1.75" />
<text x="1588.8" y="744.8" font-size="19.4" fill="#4D4D4D" text-anchor="middle" >-2</text>
<line x1="1708.4" y1="722.95" x2="1708.4" y2="727.75" stroke="#333333" stroke-width="1.75" />
<text x="1708.4" y="744.8" font-size="19.4" fill="#4D4D4D" text-anchor="middle" >-1</text>
<line x1="1828" y1="722.95" x2="1828" y2="727.75" stroke="#333333" stroke-width="1.75" />
<text x="1828" y="744.8" font-size="19.4" fill="#4D4D4D" text-anchor="middle" >0</text>
<text x="1384.2" y="777.3" font-size="19.55" fill="#000" text-anchor="middle" >effect estimate in years (95% CI)</text>
<text x="1759.5" y="777.3" font-size="19.55" fill="#000" text-anchor="middle" >log(hazard ratio) (95% CI)</text>
<text x="1434.3" y="90" font-size="34.6" fill="#000" text-anchor="middle" >Age at onset</text>
<text x="1792.3" y="90" font-size="34.6" fill="#000" text-anchor="middle" >Survival</text>
<text x="1592.4" y="33.4" font-size="41.45" fill="#000" text-anchor="middle" font-weight="bold" >Moderate + high impact</text>
<text x="1117" y="69.6" font-size="60" fill="#000" text-anchor="start" font-weight="bold" >b</text>
<text x="1955.2" y="129.7" font-size="22.4" fill="#000" text-anchor="start" >bonferroni significant</text>
<line x1="1968" y1="144.1" x2="1968" y2="164.7" stroke="#000" stroke-width="1.45" />
<circle cx="1968" cy="154.4" r="5.7" fill="none" stroke="#000" stroke-width="1.8"/>
<text x="1989.4" y="160.2" font-size="18" fill="#000" text-anchor="start" >no</text>
<line x1="1968" y1="170" x2="1968" y2="190.6" stroke="#000" stroke-width="1.45" />
<circle cx="1968" cy="180.3" r="6.7" fill="#000"/>
<text x="1989.4" y="186" font-size="18" fill="#000" text-anchor="start" >yes</text>
<text x="1955.2" y="244.8" font-size="22.4" fill="#000" text-anchor="start" >bin</text>
<line x1="1968" y1="258" x2="1968" y2="278.6" stroke="#DDA42C" stroke-width="1.45" />
<circle cx="1968" cy="268.3" r="6.7" fill="#DDA42C"/>
<text x="1989.4" y="274.6" font-size="17.9" fill="#000" text-anchor="start" >singletons-only</text>
<line x1="1968" y1="283.8" x2="1968" y2="304.4" stroke="#6CB9E6" stroke-width="1.45" />
<circle cx="1968" cy="294.1" r="6.7" fill="#6CB9E6"/>
<text x="1989.4" y="300.4" font-size="18" fill="#000" text-anchor="start" >URV</text>
</g>
<g id="panel-b-bottom">
<rect x="1205.6" y="967.55" width="365.4" height="608.95" fill="#fff"/>
<line x1="1243.18" y1="967.55" x2="1243.18" y2="1576.5" stroke="#EAEAEA" stroke-width="0.85" />
<line x1="1312.66" y1="967.55" x2="1312.66" y2="1576.5" stroke="#EAEAEA" stroke-width="0.85" />
<line x1="1382.14" y1="967.55" x2="1382.14" y2="1576.5" stroke="#EAEAEA" stroke-width="0.85" />
<line x1="1451.62" y1="967.55" x2="1451.62" y2="1576.5" stroke="#EAEAEA" stroke-width="0.85" />
<line x1="1521.1" y1="967.55" x2="1521.1" y2="1576.5" stroke="#EAEAEA" stroke-width="0.85" />
<line x1="1208.44" y1="967.55" x2="1208.44" y2="1576.5" stroke="#EAEAEA" stroke-width="1.25" />
<line x1="1277.92" y1="967.55" x2="1277.92" y2="1576.5" stroke="#EAEAEA" stroke-width="1.25" />
<line x1="1347.4" y1="967.55" x2="1347.4" y2="1576.5" stroke="#EAEAEA" stroke-width="1.25" />
<line x1="1416.88" y1="967.55" x2="1416.88" y2="1576.5" stroke="#EAEAEA" stroke-width="1.25" />
<line x1="1486.36" y1="967.55" x2="1486.36" y2="1576.5" stroke="#EAEAEA" stroke-width="1.25" />
<line x1="1555.84" y1="967.55" x2="1555.84" y2="1576.5" stroke="#EAEAEA" stroke-width="1.25" />
<line x1="1205.6" y1="1012.3" x2="1571" y2="1012.3" stroke="#EAEAEA" stroke-width="1.25" />
<line x1="1205.6" y1="1086.58" x2="1571" y2="1086.58" stroke="#EAEAEA" stroke-width="1.25" />
<line x1="1205.6" y1="1160.86" x2="1571" y2="1160.86" stroke="#EAEAEA" stroke-width="1.25" />
<line x1="1205.6" y1="1235.14" x2="1571" y2="1235.14" stroke="#EAEAEA" stroke-width="1.25" />
<line x1="1205.6" y1="1309.42" x2="1571" y2="1309.42" stroke="#EAEAEA" stroke-width="1.25" />
<line x1="1205.6" y1="1383.7" x2="1571" y2="1383.7" stroke="#EAEAEA" stroke-width="1.25" />
<line x1="1205.6" y1="1457.98" x2="1571" y2="1457.98" stroke="#EAEAEA" stroke-width="1.25" />
<line x1="1205.6" y1="1532.26" x2="1571" y2="1532.26" stroke="#EAEAEA" stroke-width="1.25" />
<rect x="1580.7" y="967.55" width="365.7" height="608.95" fill="#fff"/>
<line x1="1670.4" y1="967.55" x2="1670.4" y2="1576.5" stroke="#EAEAEA" stroke-width="0.85" />
<line x1="1778.4" y1="967.55" x2="1778.4" y2="1576.5" stroke="#EAEAEA" stroke-width="0.85" />
<line x1="1886.4" y1="967.55" x2="1886.4" y2="1576.5" stroke="#EAEAEA" stroke-width="0.85" />
<line x1="1616.4" y1="967.55" x2="1616.4" y2="1576.5" stroke="#EAEAEA" stroke-width="1.25" />
<line x1="1724.4" y1="967.55" x2="1724.4" y2="1576.5" stroke="#EAEAEA" stroke-width="1.25" />
<line x1="1832.4" y1="967.55" x2="1832.4" y2="1576.5" stroke="#EAEAEA" stroke-width="1.25" />
<line x1="1940.4" y1="967.55" x2="1940.4" y2="1576.5" stroke="#EAEAEA" stroke-width="1.25" />
<line x1="1580.7" y1="1012.3" x2="1946.4" y2="1012.3" stroke="#EAEAEA" stroke-width="1.25" />
<line x1="1580.7" y1="1086.58" x2="1946.4" y2="1086.58" stroke="#EAEAEA" stroke-width="1.25" />
<line x1="1580.7" y1="1160.86" x2="1946.4" y2="1160.86" stroke="#EAEAEA" stroke-width="1.25" />
<line x1="1580.7" y1="1235.14" x2="1946.4" y2="1235.14" stroke="#EAEAEA" stroke-width="1.25" />
<line x1="1580.7" y1="1309.42" x2="1946.4" y2="1309.42" stroke="#EAEAEA" stroke-width="1.25" />
<line x1="1580.7" y1="1383.7" x2="1946.4" y2="1383.7" stroke="#EAEAEA" stroke-width="1.25" />
<line x1="1580.7" y1="1457.98" x2="1946.4" y2="1457.98" stroke="#EAEAEA" stroke-width="1.25" />
<line x1="1580.7" y1="1532.26" x2="1946.4" y2="1532.26" stroke="#EAEAEA" stroke-width="1.25" />
<line x1="1276.4" y1="1004.85" x2="1412" y2="1004.85" stroke="#6CB9E6" stroke-width="1.4" />
<circle cx="1344" cy="1004.85" r="5.6" fill="none" stroke="#6CB9E6" stroke-width="2"/>
<line x1="1222" y1="1019.75" x2="1555" y2="1019.75" stroke="#DDA42C" stroke-width="1.4" />
<circle cx="1388" cy="1019.75" r="5.6" fill="none" stroke="#DDA42C" stroke-width="2"/>
<line x1="1597" y1="1004.85" x2="1746.6" y2="1004.85" stroke="#6CB9E6" stroke-width="1.4" />
<circle cx="1672" cy="1004.85" r="6.95" fill="#6CB9E6"/>
<line x1="1718" y1="1019.75" x2="1930" y2="1019.75" stroke="#DDA42C" stroke-width="1.4" />
<circle cx="1824" cy="1019.75" r="6.95" fill="#DDA42C"/>
<line x1="1274.6" y1="1153.41" x2="1375" y2="1153.41" stroke="#6CB9E6" stroke-width="1.4" />
<circle cx="1324.6" cy="1153.41" r="5.6" fill="none" stroke="#6CB9E6" stroke-width="2"/>
<line x1="1690.4" y1="1153.41" x2="1776.6" y2="1153.41" stroke="#6CB9E6" stroke-width="1.4" />
<circle cx="1733.4" cy="1153.41" r="5.6" fill="none" stroke="#6CB9E6" stroke-width="2"/>
<line x1="1270.6" y1="1301.97" x2="1375.6" y2="1301.97" stroke="#6CB9E6" stroke-width="1.4" />
<circle cx="1323" cy="1301.97" r="5.6" fill="none" stroke="#6CB9E6" stroke-width="2"/>
<line x1="1274.6" y1="1316.87" x2="1400" y2="1316.87" stroke="#DDA42C" stroke-width="1.4" />
<circle cx="1337.4" cy="1316.87" r="5.6" fill="none" stroke="#DDA42C" stroke-width="2"/>
<line x1="1733.4" y1="1301.97" x2="1839.4" y2="1301.97" stroke="#6CB9E6" stroke-width="1.4" />
<circle cx="1786.4" cy="1301.97" r="5.6" fill="none" stroke="#6CB9E6" stroke-width="2"/>
<line x1="1733.4" y1="1316.87" x2="1839.4" y2="1316.87" stroke="#DDA42C" stroke-width="1.4" />
<circle cx="1786.4" cy="1316.87" r="5.6" fill="none" stroke="#DDA42C" stroke-width="2"/>
<line x1="1341" y1="1376.25" x2="1396" y2="1376.25" stroke="#6CB9E6" stroke-width="1.4" />
<circle cx="1368.6" cy="1376.25" r="5.6" fill="none" stroke="#6CB9E6" stroke-width="2"/>
<line x1="1305.4" y1="1391.15" x2="1381.4" y2="1391.15" stroke="#DDA42C" stroke-width="1.4" />
<circle cx="1343.4" cy="1391.15" r="5.6" fill="none" stroke="#DDA42C" stroke-width="2"/>
<line x1="1684.4" y1="1376.25" x2="1734" y2="1376.25" stroke="#6CB9E6" stroke-width="1.4" />
<circle cx="1709" cy="1376.25" r="5.6" fill="none" stroke="#6CB9E6" stroke-width="2"/>
<line x1="1673.6" y1="1391.15" x2="1753.6" y2="1391.15" stroke="#DDA42C" stroke-width="1.4" />
<circle cx="1713.6" cy="1391.15" r="5.6" fill="none" stroke="#DDA42C" stroke-width="2"/>
<line x1="1333" y1="1450.53" x2="1399.6" y2="1450.53" stroke="#6CB9E6" stroke-width="1.4" />
<circle cx="1366.4" cy="1450.53" r="5.6" fill="none" stroke="#6CB9E6" stroke-width="2"/>
<line x1="1305" y1="1465.43" x2="1397" y2="1465.43" stroke="#DDA42C" stroke-width="1.4" />
<circle cx="1351" cy="1465.43" r="5.6" fill="none" stroke="#DDA42C" stroke-width="2"/>
<line x1="1704.4" y1="1450.53" x2="1760.6" y2="1450.53" stroke="#6CB9E6" stroke-width="1.4" />
<circle cx="1732.6" cy="1450.53" r="5.6" fill="none" stroke="#6CB9E6" stroke-width="2"/>
<line x1="1697.6" y1="1465.43" x2="1772.4" y2="1465.43" stroke="#DDA42C" stroke-width="1.4" />
<circle cx="1735" cy="1465.43" r="5.6" fill="none" stroke="#DDA42C" stroke-width="2"/>
<line x1="1291" y1="1524.81" x2="1367" y2="1524.81" stroke="#6CB9E6" stroke-width="1.4" />
<circle cx="1329" cy="1524.81" r="5.6" fill="none" stroke="#6CB9E6" stroke-width="2"/>
<line x1="1293" y1="1539.71" x2="1418.6" y2="1539.71" stroke="#DDA42C" stroke-width="1.4" />
<circle cx="1356" cy="1539.71" r="5.6" fill="none" stroke="#DDA42C" stroke-width="2"/>
<line x1="1690" y1="1524.81" x2="1750.6" y2="1524.81" stroke="#6CB9E6" stroke-width="1.4" />
<circle cx="1720.4" cy="1524.81" r="5.6" fill="none" stroke="#6CB9E6" stroke-width="2"/>
<line x1="1683" y1="1539.71" x2="1788.6" y2="1539.71" stroke="#DDA42C" stroke-width="1.4" />
<circle cx="1735.6" cy="1539.71" r="5.6" fill="none" stroke="#DDA42C" stroke-width="2"/>
<line x1="1347.4" y1="967.55" x2="1347.4" y2="1576.5" stroke="#000" stroke-width="1.6" stroke-dasharray="1.6 5.34" stroke-dashoffset="2.59"/>
<line x1="1724.4" y1="967.55" x2="1724.4" y2="1576.5" stroke="#000" stroke-width="1.6" stroke-dasharray="1.6 5.34" stroke-dashoffset="2.59"/>
<rect x="1205.6" y="967.55" width="365.4" height="608.95" fill="none" stroke="#505050" stroke-width="1.1"/>
<rect x="1580.7" y="967.55" width="365.7" height="608.95" fill="none" stroke="#505050" stroke-width="1.1"/>
<line x1="1200.3" y1="1012.3" x2="1205.1" y2="1012.3" stroke="#333333" stroke-width="1.75" />
<text x="1196.8" y="1019.2" font-size="19.4" fill="#4D4D4D" text-anchor="end" >SOD1</text>
<line x1="1200.3" y1="1086.58" x2="1205.1" y2="1086.58" stroke="#333333" stroke-width="1.75" />
<text x="1196.8" y="1093.48" font-size="19.4" fill="#4D4D4D" text-anchor="end" >TARDBP</text>
<line x1="1200.3" y1="1160.86" x2="1205.1" y2="1160.86" stroke="#333333" stroke-width="1.75" />
<text x="1196.8" y="1167.76" font-size="19.4" fill="#4D4D4D" text-anchor="end" >UNC13C</text>
<line x1="1200.3" y1="1235.14" x2="1205.1" y2="1235.14" stroke="#333333" stroke-width="1.75" />
<text x="1196.8" y="1242.04" font-size="19.4" fill="#4D4D4D" text-anchor="end" >KIF4A</text>
<line x1="1200.3" y1="1309.42" x2="1205.1" y2="1309.42" stroke="#333333" stroke-width="1.75" />
<text x="1196.8" y="1316.32" font-size="19.4" fill="#4D4D4D" text-anchor="end" >DNAJC7</text>
<line x1="1200.3" y1="1383.7" x2="1205.1" y2="1383.7" stroke="#333333" stroke-width="1.75" />
<text x="1196.8" y="1390.6" font-size="19.4" fill="#4D4D4D" text-anchor="end" >NEK1</text>
<line x1="1200.3" y1="1457.98" x2="1205.1" y2="1457.98" stroke="#333333" stroke-width="1.75" />
<text x="1196.8" y="1464.88" font-size="19.4" fill="#4D4D4D" text-anchor="end" >TBK1</text>
<line x1="1200.3" y1="1532.26" x2="1205.1" y2="1532.26" stroke="#333333" stroke-width="1.75" />
<text x="1196.8" y="1539.16" font-size="19.4" fill="#4D4D4D" text-anchor="end" >TTC3</text>
<line x1="1208.44" y1="1577" x2="1208.44" y2="1581.8" stroke="#333333" stroke-width="1.75" />
<text x="1208.44" y="1599.4" font-size="19.4" fill="#4D4D4D" text-anchor="middle" >-20</text>
<line x1="1277.92" y1="1577" x2="1277.92" y2="1581.8" stroke="#333333" stroke-width="1.75" />
<text x="1277.92" y="1599.4" font-size="19.4" fill="#4D4D4D" text-anchor="middle" >-10</text>
<line x1="1347.4" y1="1577" x2="1347.4" y2="1581.8" stroke="#333333" stroke-width="1.75" />
<text x="1347.4" y="1599.4" font-size="19.4" fill="#4D4D4D" text-anchor="middle" >0</text>
<line x1="1416.88" y1="1577" x2="1416.88" y2="1581.8" stroke="#333333" stroke-width="1.75" />
<text x="1416.88" y="1599.4" font-size="19.4" fill="#4D4D4D" text-anchor="middle" >10</text>
<line x1="1486.36" y1="1577" x2="1486.36" y2="1581.8" stroke="#333333" stroke-width="1.75" />
<text x="1486.36" y="1599.4" font-size="19.4" fill="#4D4D4D" text-anchor="middle" >20</text>
<line x1="1555.84" y1="1577" x2="1555.84" y2="1581.8" stroke="#333333" stroke-width="1.75" />
<text x="1555.84" y="1599.4" font-size="19.4" fill="#4D4D4D" text-anchor="middle" >30</text>
<line x1="1616.4" y1="1577" x2="1616.4" y2="1581.8" stroke="#333333" stroke-width="1.75" />
<text x="1616.4" y="1599.4" font-size="19.4" fill="#4D4D4D" text-anchor="middle" >-2</text>
<line x1="1724.4" y1="1577" x2="1724.4" y2="1581.8" stroke="#333333" stroke-width="1.75" />
<text x="1724.4" y="1599.4" font-size="19.4" fill="#4D4D4D" text-anchor="middle" >0</text>
<line x1="1832.4" y1="1577" x2="1832.4" y2="1581.8" stroke="#333333" stroke-width="1.75" />
<text x="1832.4" y="1599.4" font-size="19.4" fill="#4D4D4D" text-anchor="middle" >2</text>
<line x1="1940.4" y1="1577" x2="1940.4" y2="1581.8" stroke="#333333" stroke-width="1.75" />
<text x="1940.4" y="1599.4" font-size="19.4" fill="#4D4D4D" text-anchor="middle" >4</text>
<text x="1388.3" y="1631.2" font-size="19.55" fill="#000" text-anchor="middle" >effect estimate in years (95% CI)</text>
<text x="1763.55" y="1631.2" font-size="19.55" fill="#000" text-anchor="middle" >log(hazard ratio) (95% CI)</text>
<text x="1391.4" y="945" font-size="34.6" fill="#000" text-anchor="middle" >Age at onset</text>
<text x="1767" y="945" font-size="34.6" fill="#000" text-anchor="middle" >Survival</text>
<text x="1604.2" y="880.5" font-size="41.45" fill="#000" text-anchor="middle" font-weight="bold" >High-impact only</text>
</g>
</svg>
</body>
</html>
